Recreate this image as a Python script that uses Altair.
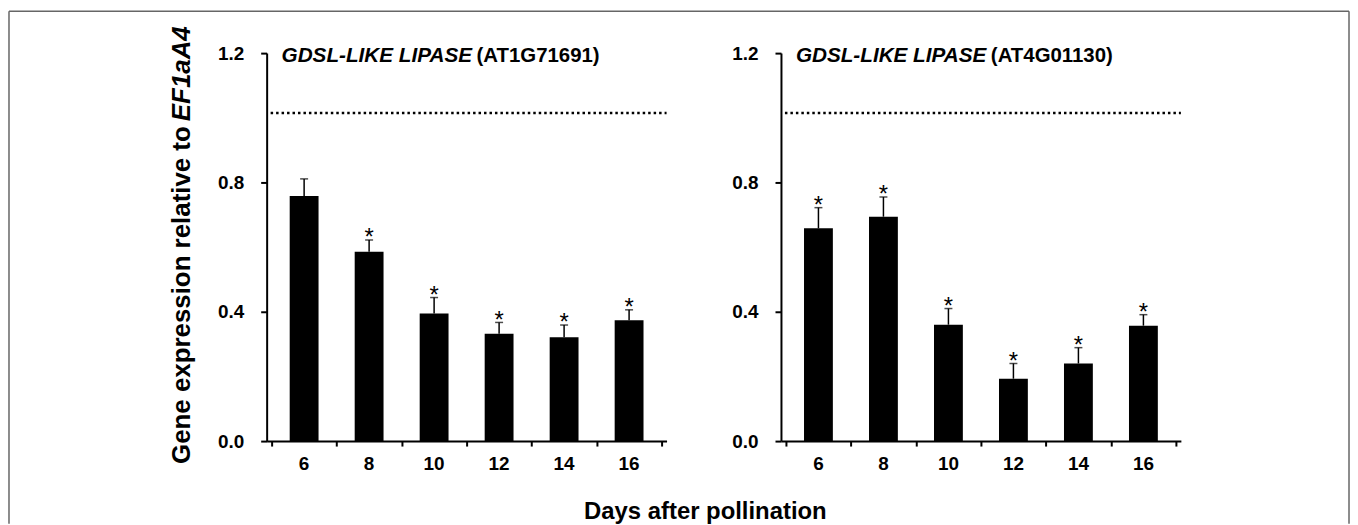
import altair as alt
import pandas as pd

# ---------------- data ----------------
days = [6, 8, 10, 12, 14, 16]

mean_a = [0.758, 0.586, 0.395, 0.332, 0.321, 0.374]
err_a = [0.053, 0.036, 0.049, 0.035, 0.038, 0.032]
sig_a = [False, True, True, True, True, True]

mean_b = [0.658, 0.694, 0.360, 0.193, 0.240, 0.357]
err_b = [0.064, 0.061, 0.050, 0.047, 0.049, 0.034]
sig_b = [True, True, True, True, True, True]

gene_italic = ["GDSL-LIKE LIPASE", "GDSL-LIKE LIPASE"]
gene_id = ["(AT1G71691)", "(AT4G01130)"]

y_ticks = [0.0, 0.4, 0.8, 1.2]
x_tick_marks = [5, 7, 9, 11, 13, 15, 17]
reference_level = 1.015

y_title_plain = "Gene expression relative to "
y_title_italic = "EF1aA4"
x_title = "Days after pollination"

FONT = "Liberation Sans"
W, H = 402, 390


def panel(means, errs, sigs, title_it, title_id, first):
    df = pd.DataFrame({
        "day": days,
        "label": [str(d) for d in days],
        "mean": means,
        "upper": [m + e for m, e in zip(means, errs)],
        "sig": sigs,
    })
    x_scale = alt.Scale(domain=[5, 17], nice=False, zero=False)
    y_scale = alt.Scale(domain=[0, 1.2], nice=False, zero=True)
    x_axis = alt.Axis(
        values=x_tick_marks, labels=False, title=None, grid=False, tickSize=5,
        domainColor="black", domainWidth=2, tickColor="black", tickWidth=2,
    )
    y_axis = alt.Axis(
        values=y_ticks, format=".1f", title=None, grid=False,
        labelPadding=17, tickSize=6,
        domainColor="black", domainWidth=2, tickColor="black", tickWidth=2,
        labelFont=FONT, labelFontSize=19, labelFontWeight="bold", labelColor="black",
    )

    base = alt.Chart(df)
    x = alt.X("day:Q", scale=x_scale, axis=x_axis)
    bars = base.mark_bar(size=29, color="black").encode(
        x=x, y=alt.Y("mean:Q", scale=y_scale, axis=y_axis)
    )
    rule = base.mark_rule(color="black", strokeWidth=1.5).encode(
        x="day:Q", y="mean:Q", y2="upper:Q"
    )
    cap = base.mark_tick(orient="horizontal", size=8, thickness=1.5, color="black").encode(
        x="day:Q", y="upper:Q"
    )
    star = base.transform_filter("datum.sig").mark_text(
        text="*", fontSize=24, font=FONT, color="black", baseline="alphabetic", dy=5.5
    ).encode(x="day:Q", y="upper:Q")
    xlab = base.mark_text(
        font=FONT, fontSize=19, fontWeight="bold", color="black",
        baseline="alphabetic", align="center"
    ).encode(x="day:Q", y=alt.value(H + 29), text="label:N")

    ref = alt.Chart(pd.DataFrame({"level": [reference_level]})).mark_rule(
        color="black", strokeWidth=2.5, strokeDash=[2.5, 3]
    ).encode(y="level:Q", x=alt.value(4), x2=alt.value(402))

    tdf = pd.DataFrame({"a": [title_it], "b": [title_id]})
    t1 = alt.Chart(tdf).mark_text(
        align="left", baseline="alphabetic", font=FONT, fontSize=20.8,
        fontWeight="bold", fontStyle="italic", color="black"
    ).encode(x=alt.value(15), y=alt.value(9), text="a:N")
    t2 = alt.Chart(tdf).mark_text(
        align="left", baseline="alphabetic", font=FONT, fontSize=20.5,
        fontWeight="bold", color="black"
    ).encode(x=alt.value(211), y=alt.value(9), text="b:N")

    layers = [bars, rule, cap, star, xlab, ref, t1, t2]

    if first:
        one = pd.DataFrame({"p": [y_title_plain], "i": [y_title_italic], "x": [x_title]})
        yt1 = alt.Chart(one).mark_text(
            angle=270, align="left", baseline="middle", font=FONT, fontSize=26,
            fontWeight="bold", color="black"
        ).encode(x=alt.value(-85), y=alt.value(413), text="p:N")
        yt2 = alt.Chart(one).mark_text(
            angle=270, align="right", baseline="middle", font=FONT, fontSize=26,
            fontWeight="bold", fontStyle="italic", color="black"
        ).encode(x=alt.value(-85), y=alt.value(-27), text="i:N")
        xt = alt.Chart(one).mark_text(
            align="center", baseline="alphabetic", font=FONT, fontSize=24,
            fontWeight="bold", color="black"
        ).encode(x=alt.value(441), y=alt.value(468), text="x:N")
        fr = alt.Chart(one)
        fl = fr.mark_rule(color="#666666", strokeWidth=1.5).encode(
            x=alt.value(-259), y=alt.value(-42), y2=alt.value(473))
        ft = fr.mark_rule(color="#666666", strokeWidth=1.5).encode(
            x=alt.value(-259), x2=alt.value(1088), y=alt.value(-42))
        fright = fr.mark_rule(color="#666666", strokeWidth=1.5).encode(
            x=alt.value(1088), y=alt.value(-42), y2=alt.value(473))
        layers += [yt1, yt2, xt, fl, ft, fright]

    return alt.layer(*layers).properties(width=W, height=H)


left = panel(mean_a, err_a, sig_a, gene_italic[0], gene_id[0], True)
right = panel(mean_b, err_b, sig_b, gene_italic[1], gene_id[1], False)

chart = alt.hconcat(left, right, spacing=115, bounds="flush").properties(
    padding={"left": 0, "top": 1, "right": 0, "bottom": 0},
    background="white",
).configure_view(strokeWidth=0)

chart.save("out.html", embed_options={"renderer": "svg", "actions": False})
